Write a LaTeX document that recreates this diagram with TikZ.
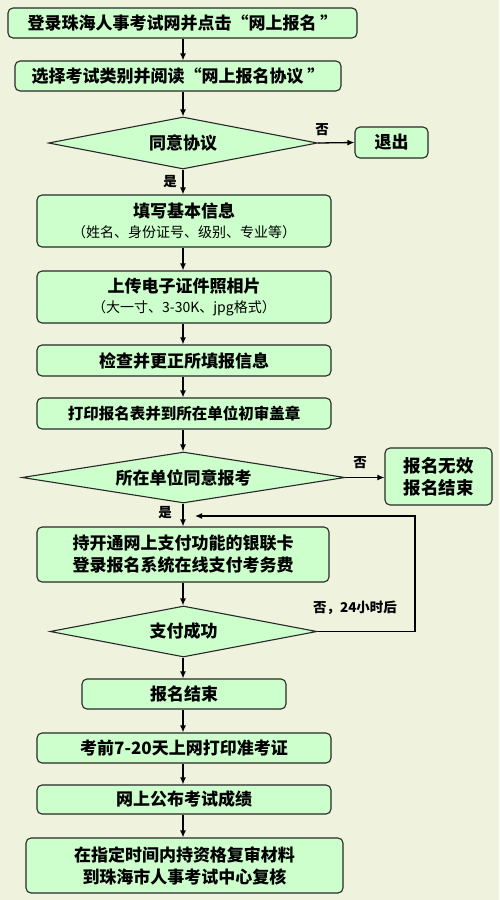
\documentclass[tikz,border=0pt]{standalone}
\usepackage{fontspec}
\setmainfont{Noto Sans CJK SC}
\usetikzlibrary{shapes.geometric,arrows.meta}
\definecolor{bgc}{RGB}{239,243,222}
\definecolor{boxc}{RGB}{204,255,204}
\definecolor{edgec}{RGB}{40,40,40}
\tikzset{
  stepbox/.style={draw=edgec,fill=boxc,rounded corners=5pt,line width=1.1pt,inner sep=0pt,
    align=center,font=\bfseries\fontsize{17}{22}\selectfont},
  decide/.style={draw=edgec,fill=boxc,diamond,line width=1.1pt,inner sep=0pt,
    font=\bfseries\fontsize{17}{20}\selectfont},
  arr/.style={draw=black,line width=1.3pt,-{Latex[length=7pt,width=6pt]}},
  lab/.style={font=\bfseries\fontsize{13.5}{15}\selectfont,inner sep=0pt}
}
\newcommand{\subtxt}[1]{{\mdseries\fontsize{14}{16}\selectfont #1}}
\begin{document}
\begin{tikzpicture}[x=1pt,y=-1pt]
\fill[bgc] (0,0) rectangle (499,900);
\useasboundingbox (0,0) rectangle (499,900);

\node[stepbox,minimum width=349pt,minimum height=30pt] (b1) at (182.5,23) {登录珠海人事考试网并点击“网上报名 ”};
\node[stepbox,minimum width=326pt,minimum height=30pt] (b2) at (178,76) {选择考试类别并阅读“网上报名协议 ”};
\node[decide,aspect=5.17,minimum width=269pt,minimum height=52pt] (d1) at (183,143) {同意协议};
\node[stepbox,minimum width=73pt,minimum height=31pt] (ex) at (391.5,142.5) {退出};
\node[stepbox,minimum width=294pt,minimum height=52pt] (b3) at (184,221) {填写基本信息\\[-2pt]\subtxt{（姓名、身份证号、级别、专业等）}};
\node[stepbox,minimum width=294pt,minimum height=52pt] (b4) at (184,297) {上传电子证件照相片\\[-2pt]\subtxt{（大一寸、3-30K、jpg格式）}};
\node[stepbox,minimum width=294pt,minimum height=31pt] (b5) at (184,360.5) {检查并更正所填报信息};
\node[stepbox,minimum width=294pt,minimum height=31pt,font=\bfseries\fontsize{15.5}{20}\selectfont] (b6) at (184,413.5) {打印报名表并到所在单位初审盖章};
\node[decide,aspect=6.33,minimum width=323pt,minimum height=51pt] (d2) at (183.5,477.5) {所在单位同意报考};
\node[stepbox,minimum width=107pt,minimum height=57pt,font=\bfseries\fontsize{17.5}{22}\selectfont] (inv) at (438.5,476.5) {报名无效\\报名结束};
\node[stepbox,minimum width=292pt,minimum height=55pt] (b7) at (183,554.5) {持开通网上支付功能的银联卡\\登录报名系统在线支付考务费};
\node[decide,aspect=5.24,minimum width=267pt,minimum height=51pt] (d3) at (183.5,631.5) {支付成功};
\node[stepbox,minimum width=204pt,minimum height=30pt] (b8) at (184,694) {报名结束};
\node[stepbox,minimum width=294pt,minimum height=30pt] (b9) at (184,748) {考前7-20天上网打印准考证};
\node[stepbox,minimum width=294pt,minimum height=29pt] (b10) at (184,799.5) {网上公布考试成绩};
\node[stepbox,minimum width=317pt,minimum height=55pt] (b11) at (184.5,865.5) {在指定时间内持资格复审材料\\到珠海市人事考试中心复核};

\node[lab] (n1) at (322,130) {否};
\node[lab] (y1) at (170,182) {是};
\node[lab] (n2) at (360,463) {否};
\node[lab] (y2) at (165,513) {是};
\node[lab] (n3) at (355,608) {否，24小时后};

\coordinate (lpA) at (415,516);
\coordinate (lpEnd) at (195,516);

\draw[arr] (b1.south -| d1.north) -- (b2.north -| d1.north);
\draw[arr] (b2.south -| d1.north) -- (d1.north);
\draw[arr] (d1.south) -- (b3.north -| d1.south);
\draw[arr] (d1.east) -- (ex.west);
\draw[arr] (b3.south -| d1.south) -- (b4.north -| d1.south);
\draw[arr] (b4.south -| d1.south) -- (b5.north -| d1.south);
\draw[arr] (b5.south -| d1.south) -- (b6.north -| d1.south);
\draw[arr] (b6.south -| d1.south) -- (d2.north -| d1.south);
\draw[arr] (d2.east) -- (inv.west |- d2.east);
\draw[arr] (d2.south -| d1.south) -- (b7.north -| d1.south);
\draw[arr] (b7.south -| d1.south) -- (d3.north -| d1.south);
\draw[arr] (d3.east) -| (lpA) -- (lpEnd);
\draw[arr] (d3.south -| d1.south) -- (b8.north -| d1.south);
\draw[arr] (b8.south -| d1.south) -- (b9.north -| d1.south);
\draw[arr] (b9.south -| d1.south) -- (b10.north -| d1.south);
\draw[arr] (b10.south -| d1.south) -- (b11.north -| d1.south);
\end{tikzpicture}
\end{document}
